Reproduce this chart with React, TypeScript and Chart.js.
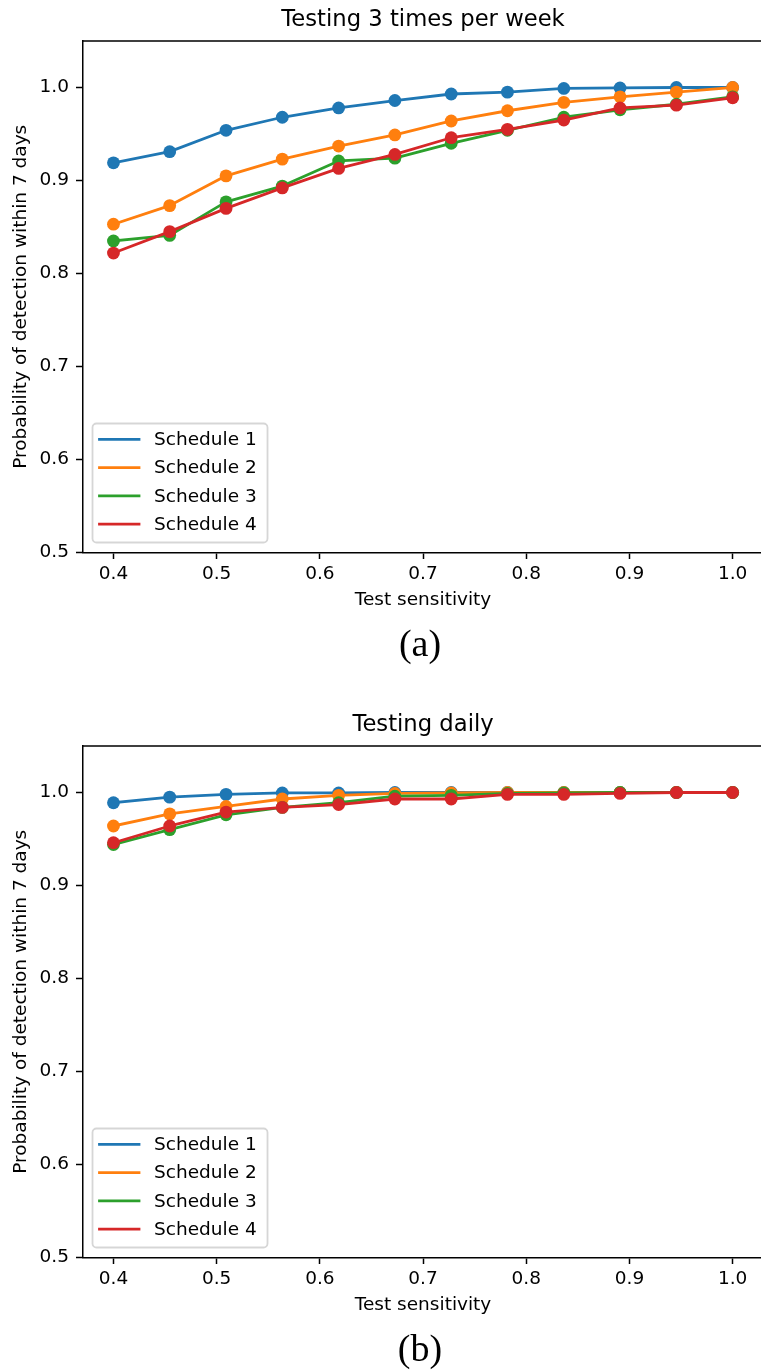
import React, { useEffect, useRef } from "react";
import { Chart, registerables } from "chart.js";

Chart.register(...registerables);

// ---------- data ----------
const sensitivity = [0.4, 0.4545, 0.5091, 0.5636, 0.6182, 0.6727, 0.7273, 0.7818, 0.8364, 0.8909, 0.9455, 1.0];
const scheduleLabels = ["Schedule 1", "Schedule 2", "Schedule 3", "Schedule 4"];
const scheduleColors = ["#1f77b4", "#ff7f0e", "#2ca02c", "#d62728"];
const xTickValues = [0.4, 0.5, 0.6, 0.7, 0.8, 0.9, 1.0];
const yTickValues = [0.5, 0.6, 0.7, 0.8, 0.9, 1.0];

// (a) Testing 3 times per week
const weekly1 = [0.919, 0.931, 0.954, 0.968, 0.978, 0.986, 0.993, 0.995, 0.999, 0.9995, 1.0, 1.0];
const weekly2 = [0.853, 0.873, 0.905, 0.923, 0.937, 0.949, 0.964, 0.975, 0.984, 0.990, 0.995, 1.0];
const weekly3 = [0.835, 0.841, 0.877, 0.894, 0.921, 0.924, 0.940, 0.954, 0.968, 0.976, 0.982, 0.990];
const weekly4 = [0.822, 0.845, 0.870, 0.892, 0.913, 0.928, 0.946, 0.955, 0.965, 0.978, 0.981, 0.989];

// (b) Testing daily
const daily1 = [0.989, 0.995, 0.998, 0.9995, 0.9995, 1.0, 1.0, 1.0, 1.0, 1.0, 1.0, 1.0];
const daily2 = [0.964, 0.977, 0.985, 0.993, 0.997, 0.999, 0.9995, 1.0, 1.0, 1.0, 1.0, 1.0];
const daily3 = [0.944, 0.960, 0.976, 0.984, 0.989, 0.996, 0.997, 0.999, 0.9995, 1.0, 1.0, 1.0];
const daily4 = [0.946, 0.964, 0.979, 0.984, 0.987, 0.993, 0.993, 0.998, 0.998, 0.999, 1.0, 1.0];

const xTitle = "Test sensitivity";
const yTitle = "Probability of detection within 7 days";

// ---------- layout constants ----------
const CANVAS_W = 770;
const CANVAS_H = 620;
const AXIS_LEFT = 82.5;
const AREA_BOTTOM = 552.5;
const FONT = "DejaVu Sans";
const FS = 18.5;

Chart.defaults.font.family = FONT;
Chart.defaults.color = "#000";

const spinesAndLegend = {
  id: "spinesAndLegend",
  afterDatasetsDraw(chart: any) {
    const ctx = chart.ctx;
    const a = chart.chartArea;
    ctx.save();
    ctx.strokeStyle = "#000";
    ctx.lineWidth = 1.5;
    ctx.beginPath();
    ctx.moveTo(a.left, a.top);
    ctx.lineTo(a.right, a.top);
    ctx.lineTo(a.right, a.bottom);
    ctx.stroke();
    ctx.restore();
  },
  afterDraw(chart: any) {
    const ctx = chart.ctx;
    const a = chart.chartArea;
    const w = 175;
    const h = 119;
    const x0 = a.left + 10;
    const y0 = a.bottom - 10 - h;
    ctx.save();
    ctx.beginPath();
    ctx.roundRect(x0, y0, w, h, 4);
    ctx.fillStyle = "rgba(255,255,255,0.8)";
    ctx.fill();
    ctx.strokeStyle = "rgba(204,204,204,0.8)";
    ctx.lineWidth = 1.8;
    ctx.stroke();
    chart.data.datasets.forEach((ds: any, i: number) => {
      const cy = y0 + 15.8 + i * 28.3;
      ctx.strokeStyle = ds.borderColor;
      ctx.lineWidth = 2.8;
      ctx.lineCap = "square";
      ctx.beginPath();
      ctx.moveTo(x0 + 7, cy);
      ctx.lineTo(x0 + 46.5, cy);
      ctx.stroke();
      ctx.fillStyle = "#000";
      ctx.font = `${FS}px "${FONT}"`;
      ctx.textBaseline = "middle";
      ctx.textAlign = "left";
      ctx.fillText(ds.label, x0 + 61.5, cy + 1);
    });
    ctx.restore();
  },
};

function Panel({ title, series, top, caption }: { title: string; series: number[][]; top: number; caption: string }) {
  const ref = useRef<HTMLCanvasElement | null>(null);

  useEffect(() => {
    if (!ref.current) return;
    const datasets = series.map((vals, i) => ({
      label: scheduleLabels[i],
      data: sensitivity.map((x, j) => ({ x, y: vals[j] })),
      borderColor: scheduleColors[i],
      backgroundColor: scheduleColors[i],
      pointBackgroundColor: scheduleColors[i],
      pointBorderColor: scheduleColors[i],
      borderWidth: 2.8,
      pointRadius: 6.4,
      pointBorderWidth: 0,
      pointHoverRadius: 6.4,
      borderJoinStyle: "round" as const,
      borderCapStyle: "square" as const,
      tension: 0,
      order: series.length - i,
    }));
    const chart = new Chart(ref.current, {
      type: "line",
      data: { datasets },
      plugins: [spinesAndLegend],
      options: {
        responsive: false,
        animation: false,
        devicePixelRatio: 1,
        layout: { padding: { left: 0, right: 1, top: 0, bottom: 0 } },
        plugins: {
          legend: { display: false },
          tooltip: { enabled: false },
          title: {
            display: true,
            text: title,
            fullSize: false,
            color: "#000",
            font: { family: FONT, size: 22.7, weight: "normal", lineHeight: 1.2 },
            padding: { top: 6.4, bottom: 7.36 },
          },
        },
        scales: {
          x: {
            type: "linear",
            min: 0.37,
            max: 1.03,
            afterFit: (s: any) => {
              s.height = CANVAS_H - AREA_BOTTOM;
            },
            afterBuildTicks: (s: any) => {
              s.ticks = xTickValues.map((v) => ({ value: v }));
            },
            ticks: {
              callback: (v: any) => Number(v).toFixed(1),
              font: { family: FONT, size: FS, lineHeight: 1.2 },
              color: "#000",
              padding: 4,
              maxRotation: 0,
              autoSkip: false,
            },
            grid: { drawOnChartArea: false, drawTicks: true, tickLength: 6.5, tickColor: "#000", tickWidth: 1.5 },
            border: { display: true, color: "#000", width: 1.5 },
            title: {
              display: true,
              text: xTitle,
              color: "#000",
              font: { family: FONT, size: FS, lineHeight: 1.2 },
              padding: { top: 2, bottom: 9 },
            },
          },
          y: {
            type: "linear",
            min: 0.5,
            max: 1.05,
            afterFit: (s: any) => {
              s.width = AXIS_LEFT;
            },
            afterBuildTicks: (s: any) => {
              s.ticks = yTickValues.map((v) => ({ value: v }));
            },
            ticks: {
              callback: (v: any) => Number(v).toFixed(1),
              font: { family: FONT, size: FS, lineHeight: 1.2 },
              color: "#000",
              padding: 7,
              autoSkip: false,
            },
            grid: { drawOnChartArea: false, drawTicks: true, tickLength: 6.5, tickColor: "#000", tickWidth: 1.5 },
            border: { display: true, color: "#000", width: 1.5 },
            title: {
              display: true,
              text: yTitle,
              color: "#000",
              font: { family: FONT, size: FS, lineHeight: 1.2 },
              padding: { top: 10, bottom: 2 },
            },
          },
        },
      },
    });
    return () => chart.destroy();
  }, [title, series]);

  return (
    <>
      <canvas
        ref={ref}
        width={CANVAS_W}
        height={CANVAS_H}
        style={{ position: "absolute", left: 0, top, width: CANVAS_W, height: CANVAS_H }}
      />
      <div
        style={{
          position: "absolute",
          left: 370,
          width: 100,
          top: top + 618,
          height: 50,
          lineHeight: "50px",
          textAlign: "center",
          fontFamily: '"Liberation Serif", serif',
          fontSize: 38,
          color: "#000",
        }}
      >
        {caption}
      </div>
    </>
  );
}

const weeklySeries = [weekly1, weekly2, weekly3, weekly4];
const dailySeries = [daily1, daily2, daily3, daily4];

export default function App() {
  return (
    <div
      style={{
        position: "absolute",
        left: 0,
        top: 0,
        width: 761,
        height: 1370,
        overflow: "hidden",
        background: "#fff",
      }}
    >
      <Panel title="Testing 3 times per week" series={weeklySeries} top={0} caption="(a)" />
      <Panel title="Testing daily" series={dailySeries} top={705} caption="(b)" />
    </div>
  );
}
